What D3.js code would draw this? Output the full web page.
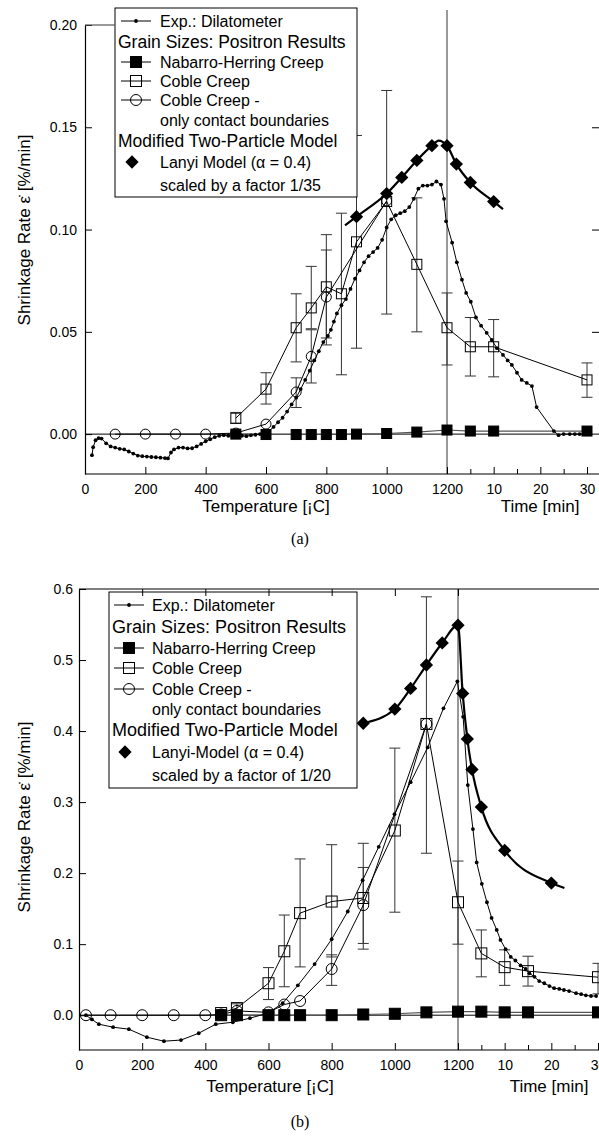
<!DOCTYPE html>
<html>
<head>
<meta charset="utf-8">
<script src="https://cdn.jsdelivr.net/npm/d3@7"></script>
<style>
  body { margin: 0; background: #fff; }
  svg { display: block; }
  text { font-family: "Liberation Sans", Arial, sans-serif; fill: #000; }
</style>
</head>
<body>
<svg id="fig" width="599" height="1136"></svg>
<script>
// ---- axis ticks ----
const tempTicks = [0, 200, 400, 600, 800, 1000, 1200];
const timeTicks = [10, 20, 30];
const timeMinor = [5, 15, 25];
const yTicksA = [0, 0.05, 0.10, 0.15, 0.20];
const yTicksB = [0, 0.1, 0.2, 0.3, 0.4, 0.5, 0.6];

// ---- panel (a): heating values are [°C, rate], holding values are [min, rate] ----
const dilHeatA = [[23,-0.0103],[27,-0.0064],[35,-0.003],[45,-0.002],[55,-0.0022],[70,-0.0045],[85,-0.006],[100,-0.0066],
  [115,-0.0072],[130,-0.0075],[145,-0.0085],[160,-0.0095],[175,-0.0105],[190,-0.0108],[205,-0.011],[220,-0.0112],
  [235,-0.0113],[250,-0.0115],[265,-0.0117],[275,-0.0119],[285,-0.009],[295,-0.0075],[310,-0.0066],[325,-0.0066],
  [340,-0.007],[355,-0.0069],[370,-0.006],[385,-0.0048],[400,-0.0035],[415,-0.0025],[430,-0.0015],[445,-0.0008],
  [460,-0.0005],[475,-0.0008],[490,-0.001],[505,-0.0006],[520,-0.0008],[535,-0.001],[550,-0.0006],[565,-0.0003],
  [580,0],[595,0.0008],[610,0.0015],[625,0.0035],[640,0.0058],[655,0.008],[670,0.011],[685,0.0145],[700,0.0178],
  [715,0.022],[730,0.0265],[745,0.031],[760,0.036],[775,0.0405],[790,0.045],[805,0.048],[815,0.051],[825,0.055],
  [835,0.059],[850,0.063],[865,0.066],[880,0.071],[895,0.076],[910,0.080],[925,0.084],[940,0.087],[955,0.089],
  [970,0.091],[985,0.095],[1000,0.101],[1015,0.105],[1030,0.107],[1045,0.108],[1060,0.109],[1075,0.111],
  [1090,0.115],[1105,0.120],[1120,0.1215],[1135,0.1215],[1150,0.122],[1165,0.1235],[1180,0.122],[1190,0.115],[1197,0.104]];
const dilHoldA = [[1.1,0.0936],[2.1,0.084],[3.2,0.0755],[4.1,0.069],[5.1,0.0647],[6.2,0.057],[7.3,0.053],[8.5,0.0495],
  [9.6,0.046],[10.7,0.042],[12,0.0387],[13,0.036],[13.9,0.0338],[15,0.030],[16,0.0265],[17.1,0.025],[18.2,0.0235],
  [19.2,0.0132],[22.9,0.0015],[23.9,-0.0005],[25,0],[26.3,0],[27.4,0],[28.4,0],[29.5,0],[30.6,0]];

const nhHeatA = [[500,0],[600,-0.0002],[700,-0.0002],[750,-0.0002],[800,-0.0002],[850,-0.0002],[900,0],[1000,0.0003],[1100,0.001],[1200,0.002]];
const nhHoldA = [[5,0.0015],[10,0.0015],[30,0.0015]];

const cobleHeatA = [[500,0.0078],[600,0.022],[700,0.052],[750,0.0617],[800,0.072],[850,0.0686],[900,0.094],[1000,0.1137],[1100,0.083],[1200,0.052]];
const cobleHoldA = [[5,0.0427],[10,0.0427],[30,0.0265]];
const cobleErrHeatA = [[500,0.0052,0.0106],[600,0.0147,0.030],[700,0.0353,0.0686],[750,0.0515,0.082],[800,0.0436,0.0975],
  [850,0.029,0.108],[900,0.042,0.146],[1000,0.0587,0.168],[1100,0.05,0.1155],[1200,0.0338,0.069]];
const cobleErrHoldA = [[5,0.0284,0.057],[10,0.028,0.056],[30,0.018,0.0348]];

const contactHeatA = [[100,0],[200,0],[300,0],[400,0],[500,0.0005],[600,0.0049],[700,0.0206],[750,0.038],[800,0.067],[1000,0.114]];
const contactErrHeatA = [[700,0.013,0.0275],[750,0.025,0.051],[800,0.047,0.090]];

const lanyiHeatA = [[900,0.1063],[1000,0.1176],[1050,0.1255],[1100,0.1338],[1150,0.141],[1200,0.141]];
const lanyiHoldA = [[2,0.132],[5,0.123],[10,0.1137]];
const lanyiCurveHeatA = [[862,0.102],[900,0.1063],[1000,0.1176],[1050,0.1255],[1100,0.1338],[1150,0.141],[1172,0.1435],[1200,0.141]];
const lanyiCurveHoldA = [[2,0.132],[5,0.123],[10,0.1137],[12,0.110]];

// ---- panel (b) ----
const dilHeatB = [[22,0],[41,-0.006],[63,-0.0127],[108,-0.0169],[158,-0.0197],[215,-0.031],[269,-0.0366],[323,-0.035],
  [379,-0.0254],[433,-0.0127],[487,-0.0099],[541,-0.0042],[598,0.0028],[645,0.0169],[693,0.042],[746,0.072],[800,0.107],
  [851,0.146],[898,0.19],[949,0.237],[999,0.283],[1050,0.328],[1104,0.377],[1154,0.432],[1198,0.47]];
const dilHoldB = [[1.1,0.42],[2.1,0.324],[3.2,0.262],[4.0,0.215],[5.1,0.185],[6.2,0.159],[7.2,0.137],[8.3,0.12],[9.1,0.106],
  [10.2,0.093],[11.3,0.082],[12.3,0.077],[13.4,0.07],[14.5,0.065],[15.3,0.059],[16.4,0.054],[17.4,0.048],[18.5,0.045],
  [19.6,0.041],[20.6,0.038],[21.7,0.037],[22.7,0.0355],[23.8,0.034],[25.3,0.031],[26.4,0.0296],[27.4,0.028],[28.5,0.027],[29.6,0.027]];

const nhHeatB = [[450,0],[500,0],[600,0],[650,0],[700,0],[800,0],[900,0.001],[1000,0.002],[1100,0.004],[1200,0.005]];
const nhHoldB = [[5,0.005],[10,0.004],[15,0.004],[30,0.004]];

const cobleHeatB = [[450,0.003],[500,0.01],[600,0.045],[650,0.09],[700,0.1437],[800,0.16],[900,0.165],[1000,0.26],[1100,0.41],[1200,0.159]];
const cobleHoldB = [[5,0.087],[10,0.0676],[15,0.062],[30,0.0535]];
const cobleErrHeatB = [[450,-0.001,0.006],[500,0.004,0.016],[600,0.022,0.067],[650,0.04,0.141],[700,0.068,0.22],[800,0.082,0.24],
  [900,0.093,0.242],[1000,0.145,0.376],[1100,0.228,0.589],[1200,0.1,0.217]];
const cobleErrHoldB = [[5,0.054,0.12],[10,0.042,0.092],[15,0.041,0.083],[30,0.03,0.073]];

const contactHeatB = [[22,0],[100,0],[200,0],[300,0],[400,0],[450,0.001],[500,0.006],[600,0.004],[650,0.015],[700,0.02],[800,0.065],[900,0.155],[1100,0.41]];
const contactErrHeatB = [[800,0.042,0.085],[900,0.101,0.208]];

const lanyiHeatB = [[900,0.411],[1000,0.431],[1050,0.46],[1100,0.493],[1150,0.524],[1200,0.549]];
const lanyiHoldB = [[1,0.453],[2,0.389],[3,0.346],[5,0.293],[10,0.232],[20,0.186]];
const lanyiCurveHoldB = [[1,0.453],[2,0.389],[3,0.346],[5,0.293],[10,0.232],[20,0.186],[22.8,0.179]];

// ---- legends ----
const legendA = [
  { sym: "dil", text: "Exp.: Dilatometer" },
  { head: true, text: "Grain Sizes: Positron Results" },
  { sym: "fsq", text: "Nabarro-Herring Creep" },
  { sym: "osq", text: "Coble Creep" },
  { sym: "ocir", text: "Coble Creep -" },
  { text: "only contact boundaries" },
  { head: true, text: "Modified Two-Particle Model" },
  { sym: "dia", text: "Lanyi Model (\u03b1 = 0.4)" },
  { text: "scaled by a factor 1/35" }
];
const legendB = [
  { sym: "dil", text: "Exp.: Dilatometer" },
  { head: true, text: "Grain Sizes: Positron Results" },
  { sym: "fsq", text: "Nabarro-Herring Creep" },
  { sym: "osq", text: "Coble Creep" },
  { sym: "ocir", text: "Coble Creep -" },
  { text: "only contact boundaries" },
  { head: true, text: "Modified Two-Particle Model" },
  { sym: "dia", text: "Lanyi-Model (\u03b1 = 0.4)" },
  { text: "scaled by a factor of 1/20" }
];

const FONT = '"Liberation Sans", Arial, sans-serif';
const svg = d3.select("#fig");

// draw one marker of the given kind
function marker(g, kind, x, y, size) {
  if (kind === "dot") {
    g.append("circle").attr("cx", x).attr("cy", y).attr("r", 1.9).attr("fill", "#000");
  } else if (kind === "fsq" || kind === "osq") {
    g.append("rect").attr("x", x - size / 2).attr("y", y - size / 2).attr("width", size).attr("height", size)
      .attr("fill", kind === "fsq" ? "#000" : "none").attr("stroke", "#000").attr("stroke-width", 1);
  } else if (kind === "ocir") {
    g.append("circle").attr("cx", x).attr("cy", y).attr("r", size / 2).attr("fill", "none").attr("stroke", "#000");
  } else if (kind === "dia") {
    g.append("path").attr("d", d3.symbol(d3.symbolSquare, size * size * 0.8)())
      .attr("transform", `translate(${x},${y}) rotate(45)`).attr("fill", "#000");
  }
}

function drawPanel(cfg, s) {
  const xT = d3.scaleLinear().domain([0, 1200]).range([cfg.left, cfg.x1200]);
  const xt = d3.scaleLinear().domain([0, 30]).range([cfg.x1200, cfg.x30]);
  const y = d3.scaleLinear().domain(cfg.yDomain).range([cfg.bottom, cfg.top]);

  const pts = (heat, hold) => heat.map(d => [xT(d[0]), y(d[1])]).concat((hold || []).map(d => [xt(d[0]), y(d[1])]));
  const errs = (heat, hold) => heat.map(d => [xT(d[0]), y(d[1]), y(d[2])]).concat((hold || []).map(d => [xt(d[0]), y(d[1]), y(d[2])]));
  const line = d3.line();
  const smooth = d3.line().curve(d3.curveMonotoneX);

  const g = svg.append("g");

  // zero line and the 1200 °C / start of holding marker
  g.append("line").attr("x1", cfg.left).attr("x2", 599).attr("y1", y(0)).attr("y2", y(0)).attr("stroke", "#000");
  g.append("line").attr("x1", xT(1200)).attr("x2", xT(1200)).attr("y1", cfg.vTop).attr("y2", cfg.bottom)
    .attr("stroke", "#555").attr("stroke-width", 1.2);

  // error bars
  const bars = errs(s.cobleErrHeat, s.cobleErrHold).concat(errs(s.contactErrHeat, []));
  bars.forEach(([x, lo, hi]) => {
    g.append("line").attr("x1", x).attr("x2", x).attr("y1", lo).attr("y2", hi).attr("stroke", "#333");
    [lo, hi].forEach(v => g.append("line").attr("x1", x - 5.5).attr("x2", x + 5.5).attr("y1", v).attr("y2", v).attr("stroke", "#333"));
  });

  // series lines
  const nh = pts(s.nhHeat, s.nhHold);
  const coble = pts(s.cobleHeat, s.cobleHold);
  const contact = pts(s.contactHeat, []);
  const dil = pts(s.dilHeat, s.dilHold);
  g.append("path").attr("d", line(nh)).attr("fill", "none").attr("stroke", "#555").attr("stroke-width", 1.2);
  g.append("path").attr("d", line(coble)).attr("fill", "none").attr("stroke", "#000");
  g.append("path").attr("d", line(contact)).attr("fill", "none").attr("stroke", "#000");
  g.append("path").attr("d", line(dil)).attr("fill", "none").attr("stroke", "#000");
  g.append("path").attr("d", smooth(pts(s.lanyiCurveHeat, s.lanyiCurveHold))).attr("fill", "none")
    .attr("stroke", "#000").attr("stroke-width", 2.2);

  // markers
  dil.forEach(p => marker(g, "dot", p[0], p[1]));
  contact.forEach(p => marker(g, "ocir", p[0], p[1], cfg.msize));
  coble.forEach(p => marker(g, "osq", p[0], p[1], cfg.msize));
  nh.forEach(p => marker(g, "fsq", p[0], p[1], cfg.msize));
  pts(s.lanyiHeat, s.lanyiHold).forEach(p => marker(g, "dia", p[0], p[1], 10.5));

  // legend box on top of the data
  const L = cfg.legend;
  const lg = g.append("g");
  lg.append("rect").attr("x", L.x).attr("y", L.y).attr("width", L.w).attr("height", L.h)
    .attr("fill", "#fff").attr("stroke", "#000");
  s.legend.forEach((row, i) => {
    const ry = L.rows[i];
    if (row.sym === "dil") {
      lg.append("line").attr("x1", L.symX - 15).attr("x2", L.symX + 15).attr("y1", ry).attr("y2", ry).attr("stroke", "#000");
      marker(lg, "dot", L.symX, ry);
    } else if (row.sym === "dia") {
      marker(lg, "dia", L.symX - 4, ry, 10.5);
    } else if (row.sym) {
      lg.append("line").attr("x1", L.symX - 15).attr("x2", L.symX + 15).attr("y1", ry).attr("y2", ry).attr("stroke", "#000");
      marker(lg, row.sym, L.symX, ry, 11);
    }
    lg.append("text").attr("x", row.head ? L.headX : L.textX).attr("y", ry).attr("dy", "0.36em")
      .attr("font-size", row.head ? L.headSize : L.size).text(row.text);
  });

  // axes
  const styleAxis = a => {
    a.attr("font-family", null).attr("font-size", null);
    a.selectAll("text").style("font-family", FONT).style("font-size", "14px").attr("fill", "#000");
    a.selectAll("line").attr("stroke", "#000");
  };
  const ax = g.append("g").attr("transform", `translate(0,${cfg.bottom})`);
  ax.append("g").call(d3.axisBottom(xT).tickValues(tempTicks).tickSize(-7).tickSizeOuter(0).tickPadding(10).tickFormat(d3.format("d"))).call(styleAxis);
  ax.append("g").call(d3.axisBottom(xt).tickValues(timeTicks).tickSize(-7).tickSizeOuter(0).tickPadding(10).tickFormat(d3.format("d"))).call(styleAxis);
  ax.append("g").call(d3.axisBottom(xt).tickValues(timeMinor).tickSize(-5).tickSizeOuter(0).tickFormat("")).call(styleAxis);
  ax.selectAll(".domain").remove();
  ax.append("line").attr("x1", cfg.left).attr("x2", 599).attr("stroke", "#000").attr("stroke-width", 1.2);

  const ay = g.append("g").attr("transform", `translate(${cfg.left},0)`)
    .call(d3.axisLeft(y).tickValues(cfg.yTicks).tickSize(-7).tickSizeOuter(0).tickPadding(cfg.yPad).tickFormat(d3.format(cfg.yFmt)))
    .call(styleAxis);
  ay.select(".domain").attr("stroke", "#000").attr("stroke-width", 1.2);

  if (cfg.topFrame) {
    const at = g.append("g").attr("transform", `translate(0,${cfg.top})`)
      .call(d3.axisTop(xT).tickValues(tempTicks).tickSize(-7).tickSizeOuter(0).tickFormat("")).call(styleAxis);
    at.select(".domain").remove();
    at.append("line").attr("x1", cfg.left).attr("x2", 599).attr("stroke", "#000").attr("stroke-width", 1.2);
  } else {
    g.append("line").attr("x1", cfg.left).attr("x2", cfg.legend.x).attr("y1", cfg.top).attr("y2", cfg.top)
      .attr("stroke", "#555").attr("stroke-width", 1.2);
  }
  if (cfg.rightTicks) {
    const ar = g.append("g").attr("transform", "translate(599,0)")
      .call(d3.axisRight(y).tickValues(cfg.rightTicks).tickSize(-7).tickFormat("")).call(styleAxis);
    ar.select(".domain").remove();
  }

  // titles
  g.append("text").attr("transform", `translate(${cfg.yTitleX},${cfg.yTitleY}) rotate(-90)`)
    .attr("text-anchor", "middle").attr("font-size", 17).text("Shrinkage Rate  \u03b5\u0307  [%/min]");
  g.append("text").attr("x", cfg.tempTitleX).attr("y", cfg.xTitleY).attr("dy", "0.36em").attr("text-anchor", "middle")
    .attr("font-size", 17).text("Temperature [\u00a1C]");
  g.append("text").attr("x", cfg.timeTitleX).attr("y", cfg.xTitleY).attr("dy", "0.36em").attr("text-anchor", "middle")
    .attr("font-size", 17).text("Time [min]");
  g.append("text").attr("x", 300).attr("y", cfg.captionY).attr("dy", "0.36em").attr("text-anchor", "middle")
    .style("font-family", '"Liberation Serif", "Times New Roman", serif').attr("font-size", 16).text(cfg.caption);
}

drawPanel({
  left: 85, x1200: 447, x30: 587, top: 25, bottom: 474, yDomain: [-0.0195, 0.20], vTop: 10,
  yTicks: yTicksA, yFmt: ".2f", yPad: 8, msize: 10, rightTicks: [0.05, 0.10, 0.15],
  yTitleX: 30, yTitleY: 230, xTitleY: 506, tempTitleX: 266, timeTitleX: 540, captionY: 538, caption: "(a)",
  legend: { x: 115, y: 8, w: 242, h: 189, symX: 136, textX: 160, headX: 118, size: 16, headSize: 17.5,
            rows: [21, 42, 62, 81, 100, 120, 141, 162, 185] }
}, {
  dilHeat: dilHeatA, dilHold: dilHoldA, nhHeat: nhHeatA, nhHold: nhHoldA,
  cobleHeat: cobleHeatA, cobleHold: cobleHoldA, cobleErrHeat: cobleErrHeatA, cobleErrHold: cobleErrHoldA,
  contactHeat: contactHeatA, contactErrHeat: contactErrHeatA,
  lanyiHeat: lanyiHeatA, lanyiHold: lanyiHoldA, lanyiCurveHeat: lanyiCurveHeatA, lanyiCurveHold: lanyiCurveHoldA,
  legend: legendA
});

drawPanel({
  left: 79, x1200: 458, x30: 598, top: 589, bottom: 1050, yDomain: [-0.049, 0.6], vTop: 589,
  yTicks: yTicksB, yFmt: ".1f", yPad: 6, msize: 11, topFrame: true,
  yTitleX: 30, yTitleY: 817, xTitleY: 1086, tempTitleX: 270, timeTitleX: 549, captionY: 1121, caption: "(b)",
  legend: { x: 109, y: 592, w: 248, h: 196, symX: 129, textX: 152, headX: 112, size: 16, headSize: 18,
            rows: [605, 627, 648, 668, 689, 709, 730, 752, 775] }
}, {
  dilHeat: dilHeatB, dilHold: dilHoldB, nhHeat: nhHeatB, nhHold: nhHoldB,
  cobleHeat: cobleHeatB, cobleHold: cobleHoldB, cobleErrHeat: cobleErrHeatB, cobleErrHold: cobleErrHoldB,
  contactHeat: contactHeatB, contactErrHeat: contactErrHeatB,
  lanyiHeat: lanyiHeatB, lanyiHold: lanyiHoldB, lanyiCurveHeat: lanyiHeatB, lanyiCurveHold: lanyiCurveHoldB,
  legend: legendB
});
</script>
</body>
</html>
